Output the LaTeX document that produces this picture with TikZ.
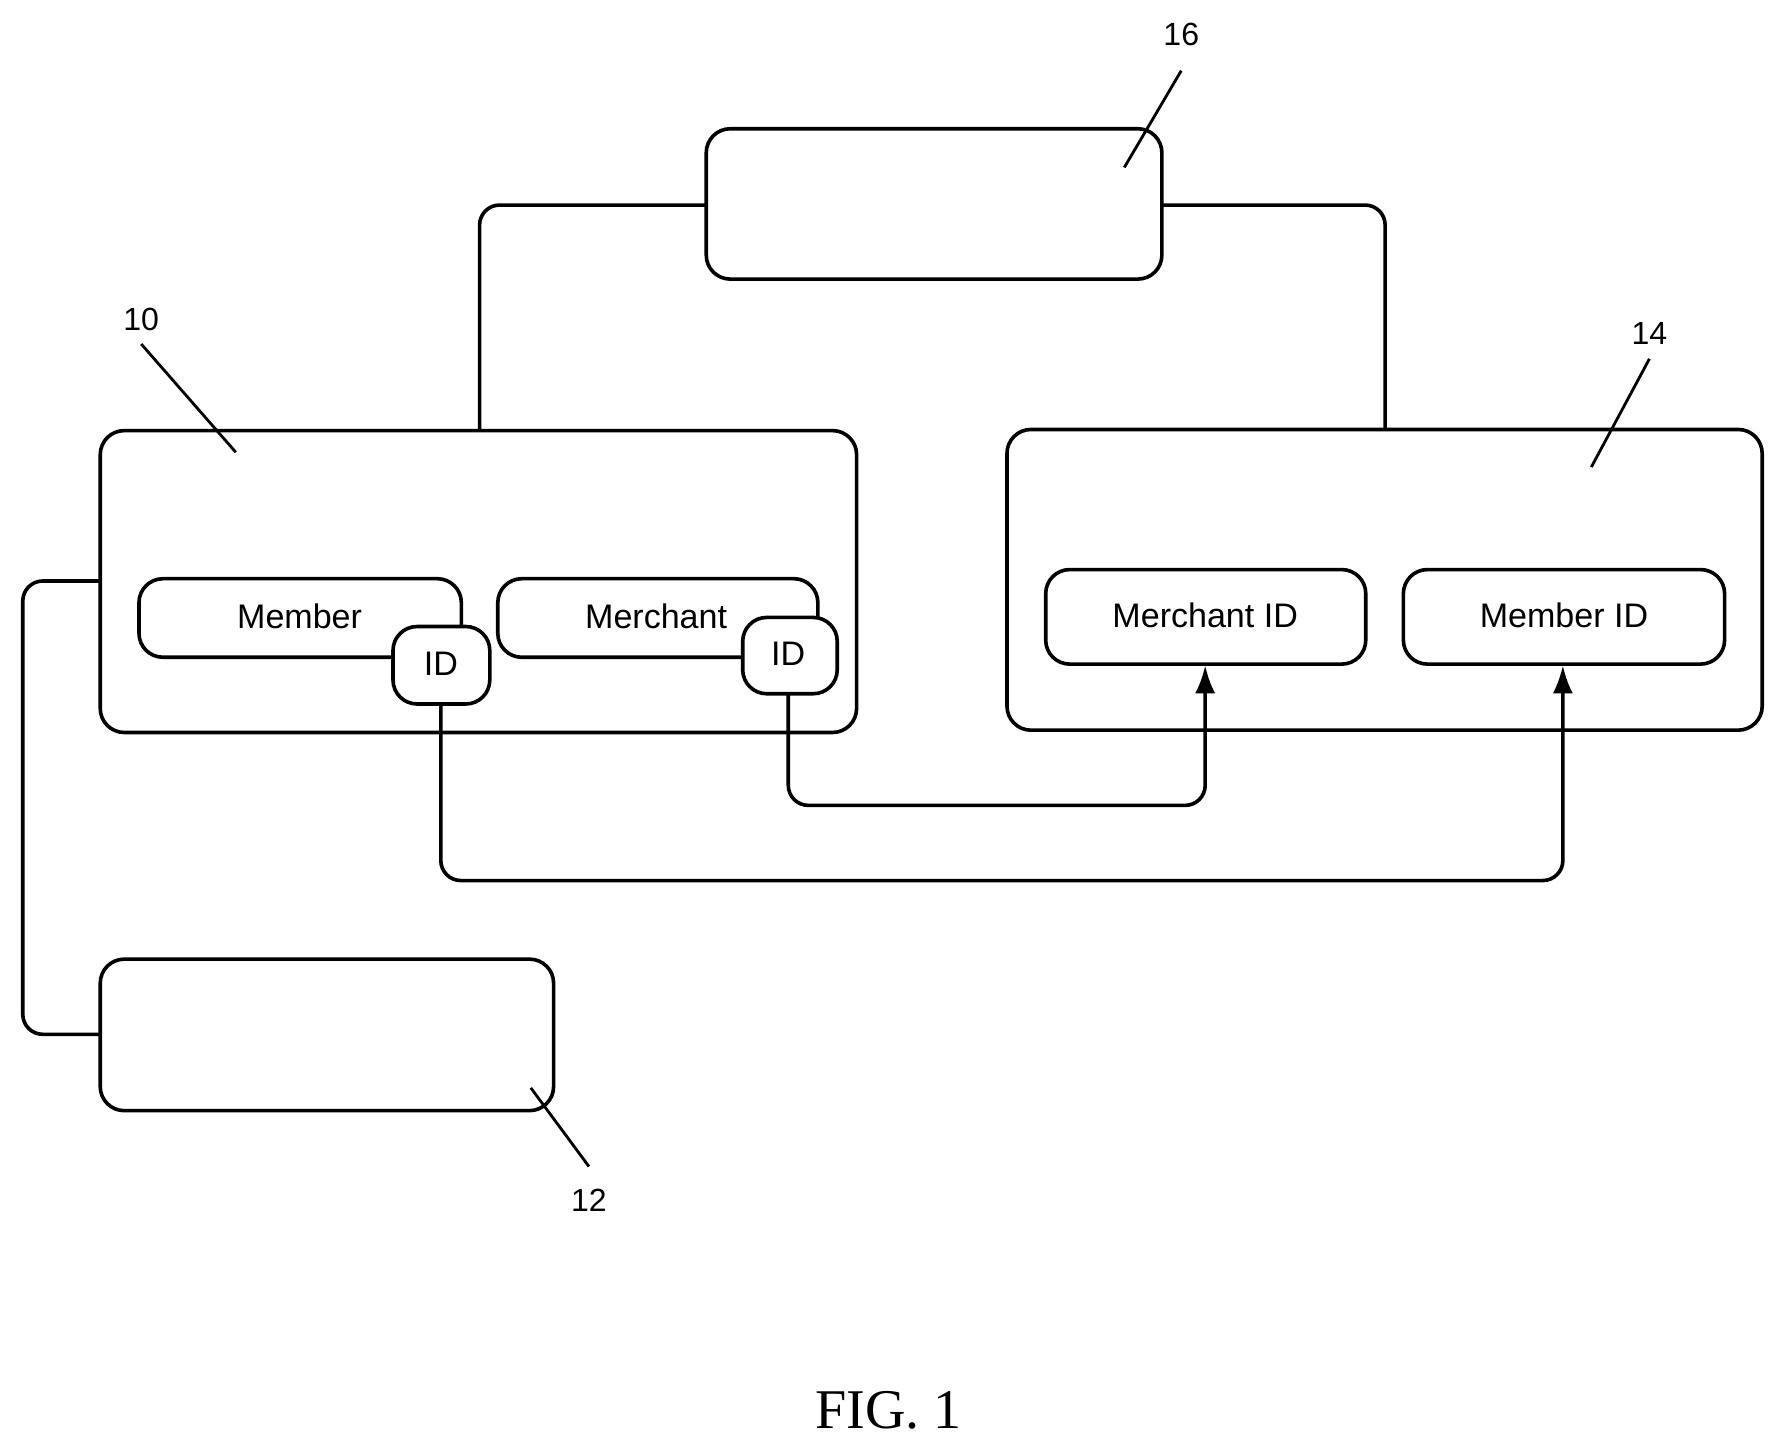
\documentclass[tikz,border=0pt]{standalone}
\usepackage{fontspec}
\setmainfont{Liberation Sans}
\newfontfamily\serifx{Liberation Serif}
\usetikzlibrary{arrows.meta}
\begin{document}
\begin{tikzpicture}[x=0.01cm,y=-0.01cm,
  box/.style={draw,line width=0.9pt,rounded corners=6pt},
  ln/.style={line width=0.9pt,rounded corners=5pt},
  lab/.style={font=\fontsize{8.5}{10}\selectfont},
  num/.style={font=\fontsize{8}{10}\selectfont},
  lead/.style={line width=0.7pt}]
\useasboundingbox (0,0) rectangle (1560,1265);
\fill[white] (0,0) rectangle (1560,1265);
% boxes
\draw[box] (620,113) rectangle (1020,245) coordinate (b16);
\draw[box] (88,378) rectangle (752,643);
\draw[box] (884,377) rectangle (1547,641);
\draw[box] (88,842) rectangle (486,975);
\draw[box,fill=white] (122,508) rectangle (405,577);
\node[lab] (mem) at (263,541) {Member};
\draw[box,fill=white] (437,508) rectangle (718,577);
\node[lab] (mer) at (576,541) {Merchant};
\draw[box,fill=white] (345,550) rectangle (430,618);
\node[lab] (id1) at (387,583) {ID};
\draw[box,fill=white] (652,542) rectangle (735,609);
\node[lab] (id2) at (692,574) {ID};
\draw[box] (918,500) rectangle (1199,583);
\node[lab] (merid) at (1058,540) {Merchant ID};
\draw[box] (1232,500) rectangle (1514,583);
\node[lab] (memid) at (1373,540) {Member ID};
% connectors
\draw[ln] (421,378) |- (620,180);
\draw[ln] (1020,180) -| (1216,377);
\draw[ln] (88,510) -- (20,510) -- (20,908) -- (88,908);
\draw[ln,-{Latex[length=7pt,width=5pt]}] (692,609) -- (692,707) -- (1058,707) -- (1058,584);
\draw[ln,-{Latex[length=7pt,width=5pt]}] (387,618) -- (387,773) -- (1372,773) -- (1372,584);
% reference numerals
\node[num] (n10) at (124,280) {10};
\draw[lead] (124,302) -- (207,397);
\node[num] (n16) at (1037,30) {16};
\draw[lead] (1037,62) -- (987,147);
\node[num] (n14) at (1448,293) {14};
\draw[lead] (1448,315) -- (1397,410);
\node[num] (n12) at (517,1054) {12};
\draw[lead] (517,1024) -- (466,955);
\node[font=\serifx\fontsize{14}{16}\selectfont] (fig) at (780,1238) {FIG. 1};
\end{tikzpicture}
\end{document}
